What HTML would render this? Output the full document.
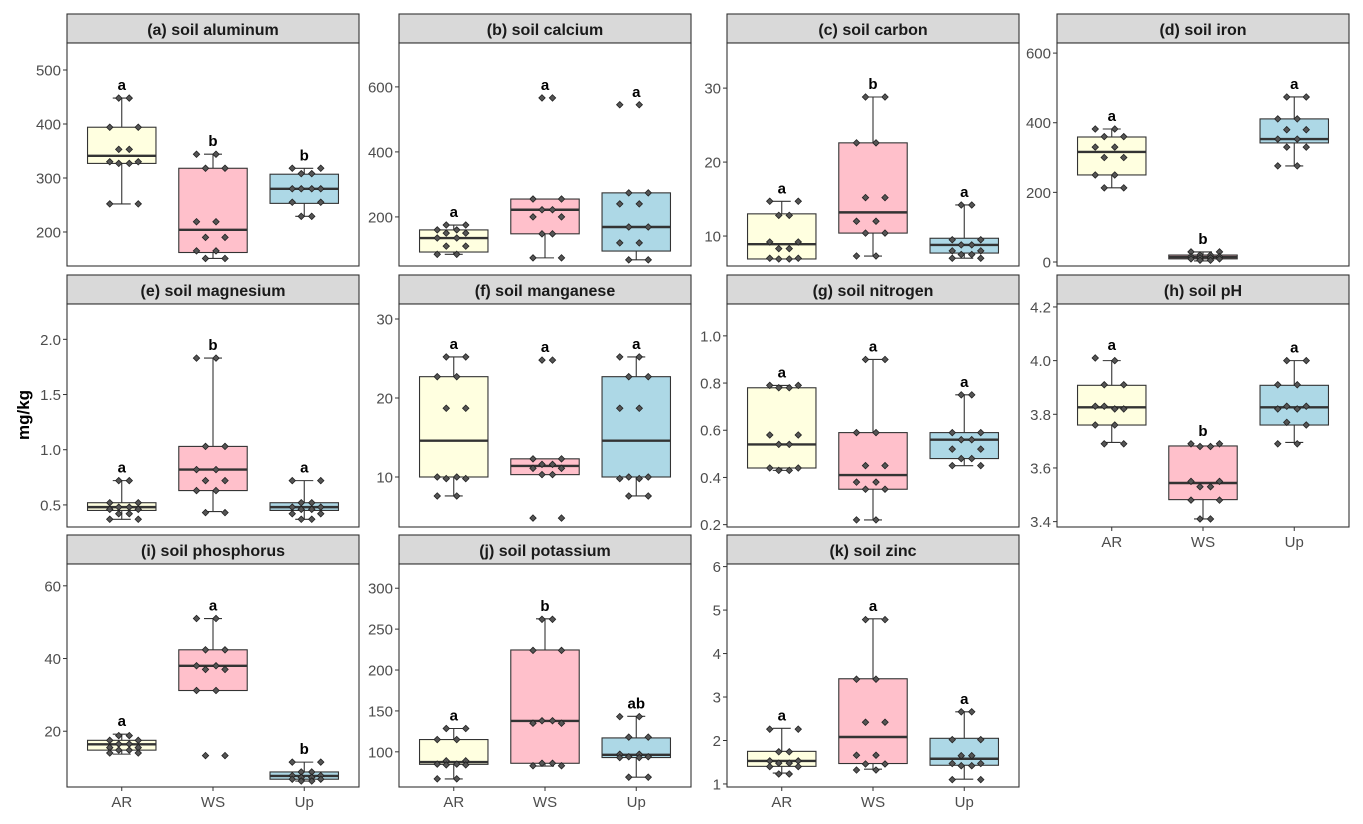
<!DOCTYPE html>
<html><head><meta charset="utf-8"><title>Soil boxplots</title>
<style>
html,body{margin:0;padding:0;background:#fff;}
svg{display:block;font-family:"Liberation Sans",Arial,sans-serif;}
</style></head>
<body>
<svg id="chart" width="1363" height="824" viewBox="0 0 1363 824" xmlns="http://www.w3.org/2000/svg">
<text x="0" y="0" transform="translate(29,415) rotate(-90)" text-anchor="middle" font-size="17" font-weight="bold" fill="#000">mg/kg</text>
</svg>
<script>
const categories = ["AR","WS","Up"];
const panelTitles = ["(a) soil aluminum","(b) soil calcium","(c) soil carbon","(d) soil iron","(e) soil magnesium","(f) soil manganese","(g) soil nitrogen","(h) soil pH","(i) soil phosphorus","(j) soil potassium","(k) soil zinc"];
const yDomains = [[137,550],[49,735],[5.95,36.1],[-11.5,629],[0.30,2.32],[3.67,31.9],[0.19,1.135],[3.380,4.211],[4.66,66],[57,329.6],[0.93,6.06]];
const yTicks = [[200,300,400,500],[200,400,600],[10,20,30],[0,200,400,600],[0.5,1.0,1.5,2.0],[10,20,30],[0.2,0.4,0.6,0.8,1.0],[3.4,3.6,3.8,4.0,4.2],[20,40,60],[100,150,200,250,300],[1,2,3,4,5,6]];
const yTickLabels = [["200","300","400","500"],["200","400","600"],["10","20","30"],["0","200","400","600"],["0.5","1.0","1.5","2.0"],["10","20","30"],["0.2","0.4","0.6","0.8","1.0"],["3.4","3.6","3.8","4.0","4.2"],["20","40","60"],["100","150","200","250","300"],["1","2","3","4","5","6"]];
// box stats per panel per group: [lowerWhisker, q1, median, q3, upperWhisker]
const boxStats = [
 [[252,327,341,394,448],[151,162,204,318,344],[229,253,280,307,318]],
 [[85,92,135,160,175],[74,148,222,255,255],[68,95,169,274,274]],
 [[6.9,6.9,8.9,13,14.7],[7.3,10.4,13.2,22.6,28.8],[7.0,7.7,8.8,9.7,14.2]],
 [[213,250,316,359,382],[3,9,14,20,29],[276,342,353,411,474]],
 [[0.37,0.45,0.48,0.52,0.72],[0.44,0.63,0.82,1.03,1.83],[0.37,0.45,0.48,0.52,0.72]],
 [[7.6,10,14.6,22.7,25.2],[10.3,10.3,11.4,12.3,12.3],[7.6,10,14.6,22.7,25.2]],
 [[0.43,0.44,0.54,0.78,0.79],[0.22,0.35,0.41,0.59,0.90],[0.45,0.48,0.56,0.59,0.75]],
 [[3.695,3.76,3.826,3.908,4.0],[3.41,3.482,3.544,3.682,3.682],[3.695,3.76,3.826,3.908,4.0]],
 [[13.7,14.8,16.4,17.5,19.2],[31.2,31.2,38,42.4,51],[6.3,6.8,7.7,8.8,11.5]],
 [[66.8,84.7,87.5,115,128.5],[82.6,86,137.7,224.5,262.6],[69,93,96.4,117,143.4]],
 [[1.25,1.405,1.53,1.75,2.28],[1.34,1.47,2.08,3.42,4.80],[1.11,1.43,1.58,2.05,2.66]]
];
const pointValues = [
 [[448,448,394,394,353,353,330,330,327,327,252,252],[344,344,318,318,219,219,190,190,165,165,151,151],[318,318,308,308,280,280,280,280,255,255,229,229]],
 [[175,175,160,160,150,150,135,135,110,110,85,85],[566,566,255,255,222,222,200,200,148,148,74,74],[545,545,274,274,240,240,169,169,120,120,68,68]],
 [[14.7,14.7,12.8,12.8,9.2,9.2,8.3,8.3,7.0,7.0,6.9,6.9],[28.8,28.8,22.6,22.6,15.2,15.2,12,12,10.4,10.4,7.3,7.3],[14.2,14.2,9.5,9.5,8.8,8.8,8.0,8.0,7.5,7.5,7.0,7.0]],
 [[382,382,360,360,330,330,300,300,250,250,213,213],[29,29,20,20,15,15,12,12,9,9,5,5],[474,474,411,411,380,380,353,353,330,330,276,276]],
 [[0.72,0.72,0.52,0.52,0.48,0.48,0.46,0.46,0.42,0.42,0.37,0.37],[1.83,1.83,1.03,1.03,0.82,0.82,0.72,0.72,0.63,0.63,0.43,0.43],[0.72,0.72,0.52,0.52,0.48,0.48,0.46,0.46,0.42,0.42,0.37,0.37]],
 [[25.2,25.2,22.7,22.7,18.7,18.7,10,10,9.8,9.8,7.6,7.6],[24.8,24.8,12.3,12.3,11.6,11.6,11.1,11.1,10.3,10.3,4.8,4.8],[25.2,25.2,22.7,22.7,18.7,18.7,10,10,9.8,9.8,7.6,7.6]],
 [[0.79,0.79,0.78,0.78,0.58,0.58,0.54,0.54,0.44,0.44,0.43,0.43],[0.90,0.90,0.59,0.59,0.45,0.45,0.38,0.38,0.35,0.35,0.22,0.22],[0.75,0.75,0.59,0.59,0.56,0.56,0.52,0.52,0.48,0.48,0.45,0.45]],
 [[4.01,4.0,3.91,3.91,3.83,3.82,3.83,3.82,3.76,3.76,3.69,3.69],[3.69,3.69,3.68,3.68,3.55,3.55,3.53,3.53,3.48,3.48,3.41,3.41],[4.0,4.0,3.91,3.91,3.83,3.83,3.82,3.82,3.77,3.76,3.69,3.69]],
 [[18.8,18.8,17.5,17.5,16.5,16.5,15.5,15.5,14.8,14.8,14,14],[51,51,42.4,42.4,38,38,37,37,31.2,31.2,13.3,13.3],[11.5,11.5,8.8,8.8,7.8,7.8,7.3,7.3,6.8,6.8,6.3,6.3]],
 [[128.5,128.5,115,115,89,89,85,85,84,84,67,67],[262,262,224,224,138,138,135,135,86,86,83,83],[143,143,118,118,97,97,94,94,93,93,69,69]],
 [[2.26,2.26,1.74,1.74,1.53,1.53,1.48,1.48,1.40,1.40,1.23,1.23],[4.78,4.78,3.41,3.41,2.42,2.42,1.66,1.66,1.46,1.46,1.32,1.32],[2.66,2.66,2.02,2.02,1.65,1.65,1.47,1.47,1.42,1.42,1.10,1.10]]
];
const letters = [["a","b","b"],["a","a","a"],["a","b","a"],["a","b","a"],["a","b","a"],["a","a","a"],["a","a","a"],["a","b","a"],["a","a","b"],["a","b","ab"],["a","a","a"]];
const fills = ["#FFFFE0","#FFC0CB","#ADD8E6"];

const NS = "http://www.w3.org/2000/svg";
const svg = document.getElementById("chart");
const colLeft = [67,399,727,1057], panelW = 292, stripTops = [14,275,535], stripH = 29, plotH = 223;
const showX = [false,false,false,false,false,false,false,true,true,true,true];
function mk(tag, attrs, parent){ const e=document.createElementNS(NS,tag); for(const k in attrs) e.setAttribute(k,attrs[k]); (parent||svg).appendChild(e); return e; }

panelTitles.forEach((title,p)=>{
  const col=p%4,row=Math.floor(p/4);
  const x0=colLeft[col], st=stripTops[row], y0=st+stripH, y1=y0+plotH;
  const g=mk("g",{});
  
  
  const [dmin,dmax]=yDomains[p];
  const yS=v=>y1-(v-dmin)/(dmax-dmin)*plotH;
  const xS=i=>x0+(i+0.6)/3.2*panelW;
  const bw=0.75/3.2*panelW;
  const strip=mk("rect",{x:x0,y:st,width:panelW,height:stripH,fill:"#d9d9d9",stroke:"#333","stroke-width":1.1},g);
  
  
  const t=mk("text",{x:x0+panelW/2,y:st+21,"text-anchor":"middle","font-size":16,"font-weight":"bold",fill:"#1a1a1a"},g);
  t.textContent=title;
  
  
  const bg=mk("rect",{x:x0,y:y0,width:panelW,height:plotH,fill:"#fff",stroke:"none"},g);
  
  
  yTicks[p].forEach((v,k)=>{
    const y=yS(v);
    const tk=mk("line",{x1:x0-4,x2:x0,y1:y,y2:y,stroke:"#333","stroke-width":1},g);
    
    
    const tl=mk("text",{x:x0-6,y:y+5.5,"text-anchor":"end","font-size":15,fill:"#4d4d4d"},g);
    tl.textContent=yTickLabels[p][k];
    
    
  });
  categories.forEach((c,i)=>{
    const cx=xS(i), s=boxStats[p][i];
    if(s[4]>s[3]){
      const wu=mk("line",{x1:cx,x2:cx,y1:yS(s[4]),y2:yS(s[3]),stroke:"#333","stroke-width":1.1},g);
      
      
      const cap=mk("line",{x1:cx-9,x2:cx+9,y1:yS(s[4]),y2:yS(s[4]),stroke:"#333","stroke-width":1.1},g);
      
      
    }
    if(s[0]<s[1]){
      const wl=mk("line",{x1:cx,x2:cx,y1:yS(s[1]),y2:yS(s[0]),stroke:"#333","stroke-width":1.1},g);
      
      
      const cap=mk("line",{x1:cx-9,x2:cx+9,y1:yS(s[0]),y2:yS(s[0]),stroke:"#333","stroke-width":1.1},g);
      
      
    }
    const box=mk("rect",{x:cx-bw/2,y:yS(s[3]),width:bw,height:Math.max(1,yS(s[1])-yS(s[3])),fill:fills[i],stroke:"#333","stroke-width":1.1},g);
    
    
    const med=mk("line",{x1:cx-bw/2,x2:cx+bw/2,y1:yS(s[2]),y2:yS(s[2]),stroke:"#333","stroke-width":2.4},g);
    
    
    let top=Infinity;
    pointValues[p][i].forEach((v,j)=>{
      const off=(j%2?1:-1)*(3+((j*5+i*3+p)%4)*4.5);
      const px=cx+off, py=yS(v);
      top=Math.min(top,py);
      const d=mk("path",{d:`M${px},${py-3.2}L${px+3.2},${py}L${px},${py+3.2}L${px-3.2},${py}Z`,fill:"#555",stroke:"#222","stroke-width":0.8},g);
      
      
    });
    top=Math.min(top,yS(s[4]));
    const lt=mk("text",{x:cx,y:top-8,"text-anchor":"middle","font-size":15,"font-weight":"bold",fill:"#000"},g);
    lt.textContent=letters[p][i];
    
    
    if(showX[p]){
      const xt=mk("line",{x1:cx,x2:cx,y1:y1,y2:y1+4,stroke:"#333","stroke-width":1},g);
      
      
      const xl=mk("text",{x:cx,y:y1+20,"text-anchor":"middle","font-size":15,fill:"#4d4d4d"},g);
      xl.textContent=c;
      
      
    }
  });
  const border=mk("rect",{x:x0,y:y0,width:panelW,height:plotH,fill:"none",stroke:"#333","stroke-width":1.1},g);
  
  
});
</script>
</body></html>
